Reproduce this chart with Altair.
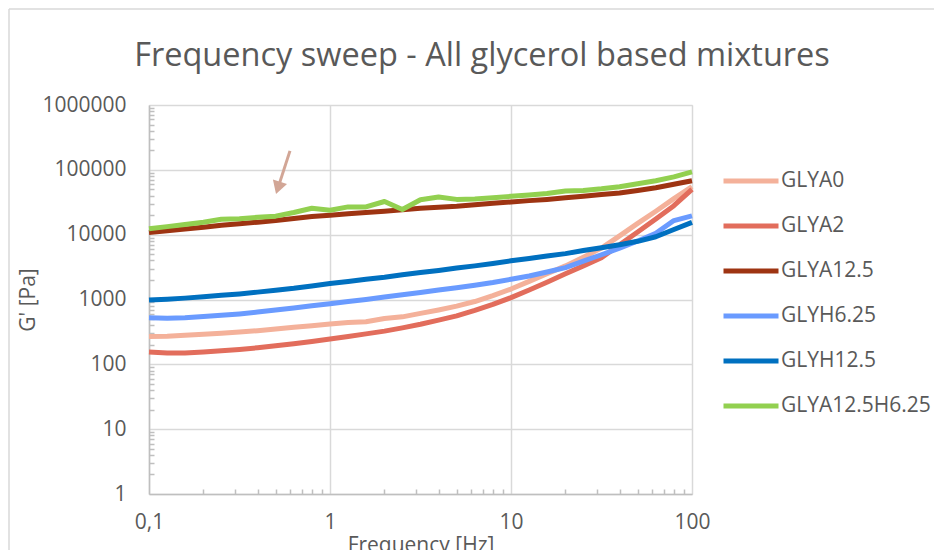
import altair as alt
import pandas as pd

# ---------------- data ----------------
freq = [0.1, 0.126, 0.158, 0.2, 0.251, 0.316, 0.398, 0.501, 0.631, 0.794,
        1.0, 1.26, 1.58, 2.0, 2.51, 3.16, 3.98, 5.01, 6.31, 7.94,
        10.0, 12.6, 15.8, 20.0, 25.1, 31.6, 39.8, 50.1, 63.1, 79.4, 100.0]

series_names = ["GLYA0", "GLYA2", "GLYA12.5", "GLYH6.25", "GLYH12.5", "GLYA12.5H6.25"]
series_colors = ["#F4B19A", "#E26D5C", "#9E3412", "#6A9BFF", "#0070C0", "#92D050"]

glya0 = [268, 272, 280, 290, 302, 315, 330, 350, 372, 395,
         420, 440, 455, 510, 540, 610, 690, 790, 930, 1150,
         1450, 1900, 2500, 3300, 4500, 6200, 9600, 14900, 23000, 36000, 55000]
glya2 = [155, 150, 150, 155, 162, 170, 180, 193, 207, 225,
         245, 268, 295, 325, 365, 415, 480, 560, 680, 840,
         1070, 1400, 1850, 2500, 3300, 4400, 7000, 11000, 17500, 28000, 50000]
glya125 = [10800, 11500, 12200, 13000, 14000, 14700, 15600, 16500, 17800, 19000,
           20000, 21000, 22000, 23000, 24300, 25500, 26500, 27500, 29000, 30500,
           32000, 33500, 35000, 37000, 39000, 41500, 44000, 48000, 53000, 60000, 68000]
glyh625 = [525, 515, 525, 545, 570, 600, 640, 690, 740, 800,
           860, 930, 1000, 1090, 1180, 1280, 1400, 1520, 1660, 1830,
           2050, 2300, 2650, 3100, 3900, 4900, 6200, 8000, 10500, 16500, 19500]
glyh125 = [980, 1010, 1050, 1100, 1160, 1220, 1300, 1390, 1490, 1620,
           1760, 1900, 2050, 2200, 2400, 2600, 2800, 3050, 3300, 3600,
           3950, 4300, 4700, 5100, 5700, 6300, 7000, 7900, 9300, 12000, 15500]
glya125h625 = [12300, 13300, 14300, 15500, 17300, 17600, 18500, 19300, 22000, 25500,
               23800, 26800, 26800, 32500, 24500, 34500, 38000, 35000, 35500, 37000,
               39000, 41000, 43000, 47000, 48000, 51000, 55000, 61000, 68000, 78000, 93000]

x_major = [0.1, 1, 10, 100]
x_minor = [0.2, 0.3, 0.4, 0.5, 0.6, 0.7, 0.8, 0.9,
           2, 3, 4, 5, 6, 7, 8, 9,
           20, 30, 40, 50, 60, 70, 80, 90]
y_major = [1, 10, 100, 1000, 10000, 100000, 1000000]
y_minor = [m * d for d in [1, 10, 100, 1000, 10000, 100000] for m in range(2, 10)]

chart_title = "Frequency sweep - All glycerol based mixtures"

# annotation arrow (data coordinates)
arrow_start = (0.601, 196000)
arrow_head = (0.516, 52700)

# ---------------- build table ----------------
all_series = [glya0, glya2, glya125, glyh625, glyh125, glya125h625]
rows = []
for i, (name, vals) in enumerate(zip(series_names, all_series)):
    for f, v in zip(freq, vals):
        rows.append({"f": f, "g": v, "series": name, "order": i})
df = pd.DataFrame(rows)

TXT = "#595959"
FONT = "Open Sans"

xscale = alt.Scale(type="log", domain=[0.1, 100], nice=False)
yscale = alt.Scale(type="log", domain=[1, 1000000], nice=False)

lines = alt.Chart(df).mark_line(strokeWidth=5, strokeCap="butt", strokeJoin="round").encode(
    x=alt.X("f:Q", scale=xscale,
            axis=alt.Axis(orient="bottom", values=x_major, grid=True, ticks=False, tickSize=0,
                          labelExpr="replace(toString(datum.value), '.', ',')",
                          labelFlush=False, labelOverlap=False,
                          labelPadding=17, labelFontSize=21, labelFont=FONT, labelColor=TXT,
                          domainColor="#bfbfbf", domainWidth=1.5,
                          gridColor="#d9d9d9", gridWidth=1.5,
                          title="Frequency [Hz]", titleFont=FONT, titleFontSize=21,
                          titleFontWeight="normal", titleColor=TXT,
                          titleY=51, titleBaseline="middle")),
    y=alt.Y("g:Q", scale=yscale,
            axis=alt.Axis(orient="left", values=y_major, grid=True, ticks=False, tickSize=0,
                          format="d", labelPadding=23, labelFontSize=21, labelFont=FONT,
                          labelFlush=False, labelOverlap=False,
                          labelColor=TXT, domainColor="#bfbfbf", domainWidth=1.5,
                          gridColor="#d9d9d9", gridWidth=1.5,
                          title="G' [Pa]", titleFont=FONT, titleFontSize=21,
                          titleFontWeight="normal", titleColor=TXT,
                          titleAngle=-90, titleX=-121, titleY=194.5,
                          titleAlign="center", titleBaseline="middle")),
    color=alt.Color("series:N", scale=alt.Scale(domain=series_names, range=series_colors),
                    sort=series_names,
                    legend=alt.Legend(title=None, orient="none", legendX=572, legendY=46,
                                      symbolType="stroke", symbolSize=3025,
                                      symbolStrokeWidth=5, symbolOffset=0,
                                      labelFont=FONT, labelFontSize=21, labelColor=TXT,
                                      labelOffset=0, rowPadding=5, padding=0)),
    order=alt.Order("order:Q"),
)

minor = alt.Chart(df).mark_line(opacity=0).encode(
    x=alt.X("f:Q", scale=xscale,
            axis=alt.Axis(orient="bottom", values=x_minor, grid=False, labels=False,
                          domain=False, ticks=True, tickSize=5, tickColor="#bfbfbf",
                          tickWidth=1.5, offset=-5, title=None)),
    y=alt.Y("g:Q", scale=yscale,
            axis=alt.Axis(orient="left", values=y_minor, grid=False, labels=False,
                          domain=False, ticks=True, tickSize=5, tickColor="#bfbfbf",
                          tickWidth=1.5, offset=-5, title=None)),
)

arrow_df = pd.DataFrame([{"f": arrow_start[0], "g": arrow_start[1],
                          "f2": arrow_head[0], "g2": arrow_head[1]}])
arrow_line = alt.Chart(arrow_df).mark_rule(color="#D2A696", strokeWidth=3).encode(
    x=alt.X("f:Q", scale=xscale, axis=None), y=alt.Y("g:Q", scale=yscale, axis=None),
    x2="f2:Q", y2="g2:Q")
arrow_tip = alt.Chart(arrow_df).mark_point(shape="triangle-down", filled=True, opacity=1,
                                           color="#D2A696", size=220, angle=18).encode(
    x=alt.X("f2:Q", scale=xscale, axis=None), y=alt.Y("g2:Q", scale=yscale, axis=None))

one = alt.Data(values=[{"a": 1}])
border_left = alt.Chart(one).mark_rule(color="#d9d9d9", strokeWidth=1.5).encode(
    x=alt.value(-140), y=alt.value(-96), y2=alt.value(460))
border_top = alt.Chart(one).mark_rule(color="#d9d9d9", strokeWidth=1.5).encode(
    x=alt.value(-140), x2=alt.value(800), y=alt.value(-96))
title_text = alt.Chart(one).mark_text(font=FONT, fontSize=32.5, color=TXT, align="center",
                                      baseline="alphabetic").encode(
    x=alt.value(333), y=alt.value(-39), text=alt.value(chart_title))

chart = alt.layer(lines, minor, arrow_line, arrow_tip, border_left, border_top,
                  title_text).resolve_axis(
    x="independent", y="independent"
).properties(
    width=543, height=389,
    autosize=alt.AutoSizeParams(type="none"),
    padding={"left": 141, "top": 97, "right": 242, "bottom": 56},
).configure_view(strokeWidth=0).configure(background="white")

chart.save("out.html", embed_options={"renderer": "svg", "actions": False})
